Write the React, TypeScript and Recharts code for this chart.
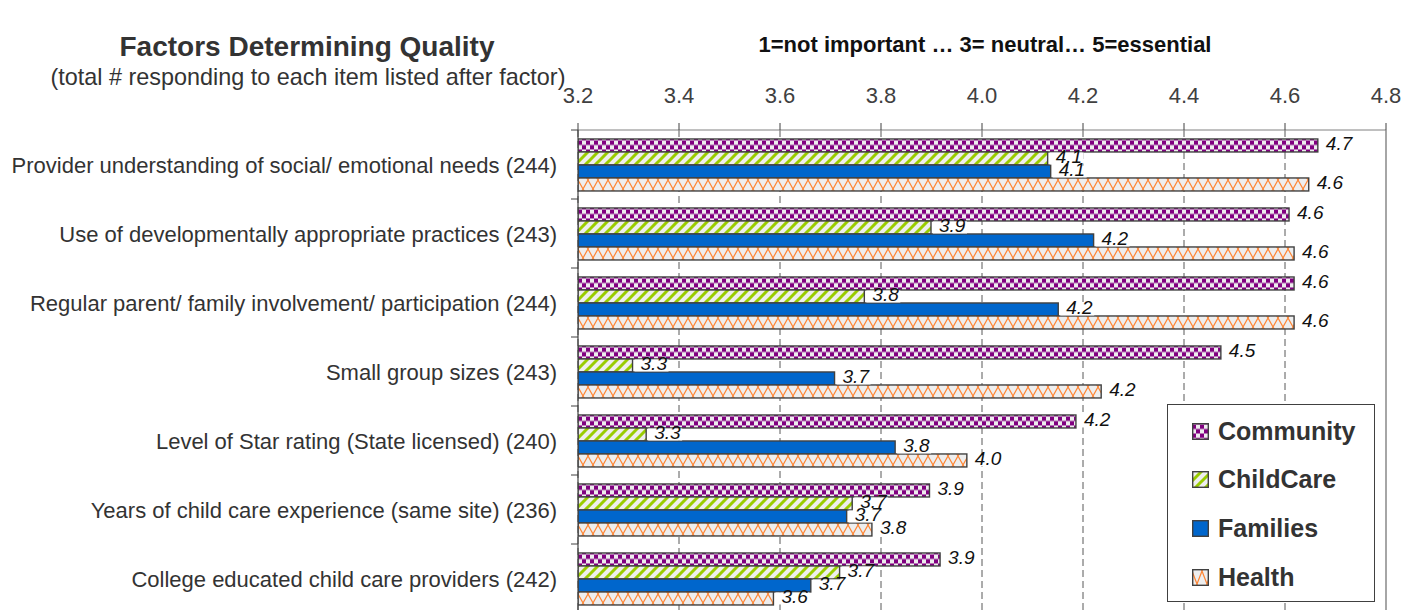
import React from 'react';
import { BarChart, Bar, XAxis, YAxis, CartesianGrid, LabelList, ReferenceLine } from 'recharts';

const categories = [
  'Provider understanding of social/ emotional needs (244)',
  'Use of developmentally appropriate practices (243)',
  'Regular parent/ family involvement/ participation (244)',
  'Small group sizes (243)',
  'Level of Star rating (State licensed) (240)',
  'Years of child care experience (same site) (236)',
  'College educated child care providers (242)',
];
const community = [4.665, 4.608, 4.618, 4.473, 4.186, 3.896, 3.917];
const childCare = [4.13, 3.899, 3.767, 3.308, 3.335, 3.743, 3.718];
const families = [4.136, 4.221, 4.151, 3.708, 3.828, 3.732, 3.661];
const health = [4.647, 4.618, 4.618, 4.236, 3.97, 3.782, 3.587];
const xTicks = [3.2, 3.4, 3.6, 3.8, 4.0, 4.2, 4.4, 4.6, 4.8];
const seriesNames = ['Community', 'ChildCare', 'Families', 'Health'];
const seriesKeys = ['community', 'childCare', 'families', 'health'];

const data = categories.map((name, i) => ({
  name,
  community: community[i],
  childCare: childCare[i],
  families: families[i],
  health: health[i],
}));

const FONT = '"Liberation Sans", Arial, sans-serif';
const PURPLE = '#800080';
const GREEN = '#99cc00';
const BLUE = '#0066cc';
const ORANGE = '#ff8533';
const BG = '#eeeeee';
const EDGE = '#404040';

function patternFor(kind: string, id: string, x: number, y: number, h: number) {
  if (kind === 'community') {
    return (
      <pattern id={id} patternUnits="userSpaceOnUse" x={x} y={y + 1.5} width={8} height={9}>
        <rect width={8} height={9} fill={BG} />
        <rect width={4} height={4.5} fill={PURPLE} />
        <rect x={4} y={4.5} width={4} height={4.5} fill={PURPLE} />
      </pattern>
    );
  }
  if (kind === 'childCare') {
    return (
      <pattern id={id} patternUnits="userSpaceOnUse" x={x} y={y} width={10} height={10}>
        <rect width={10} height={10} fill={BG} />
        <path d="M-2.5,2.5 L2.5,-2.5 M0,10 L10,0 M7.5,12.5 L12.5,7.5" stroke={GREEN} strokeWidth={3} />
      </pattern>
    );
  }
  if (kind === 'health') {
    const t = Math.max(h - 4, 2);
    return (
      <pattern id={id} patternUnits="userSpaceOnUse" x={x} y={y + 2} width={10} height={2 * t}>
        <rect width={10} height={2 * t} fill={BG} />
        <path d={`M0,0 L10,${2 * t} M10,0 L0,${2 * t}`} stroke={ORANGE} strokeWidth={1.2} fill="none" />
      </pattern>
    );
  }
  return null;
}

function PatternBar(props: any) {
  const { x, y, width, height, index, kind } = props;
  if (width == null || height == null || width <= 0) return null;
  const id = `bar-${kind}-${index}`;
  const pat = patternFor(kind, id, x, y, height);
  const fill = pat ? `url(#${id})` : BLUE;
  return (
    <g>
      {pat && <defs>{pat}</defs>}
      <rect x={x} y={y} width={width} height={height} fill={fill} stroke={EDGE} strokeWidth={1.4} />
    </g>
  );
}

function ValueLabel(props: any) {
  const { x, y, width, height, value } = props;
  if (value == null) return null;
  const cx = x + width;
  const cy = y + height / 2;
  return (
    <g>
      <rect x={cx + 2} y={y + 0.5} width={34} height={Math.max(height - 1, 1)} fill="#ffffff" />
      <text x={cx + 8} y={cy} dy={5} fontSize={19} fontStyle="italic" fill="#111" fontFamily={FONT}>
        {Number(value).toFixed(1)}
      </text>
    </g>
  );
}

const TICK_SIZE = 7;
const TICK_MARGIN = 14;

function CatTick(props: any) {
  const { x, y, payload, index, visibleTicksCount } = props;
  const off = payload && payload.offset ? payload.offset : 0;
  const axisX = x + TICK_SIZE + TICK_MARGIN;
  return (
    <g>
      <text x={x} y={y} dy={8} textAnchor="end" fontSize={22} fill="#333" fontFamily={FONT}>
        {payload.value}
      </text>
      <line x1={axisX - TICK_SIZE} x2={axisX} y1={y - off} y2={y - off} stroke={EDGE} strokeWidth={1} />
      {index === visibleTicksCount - 1 && (
        <line x1={axisX - TICK_SIZE} x2={axisX} y1={y + off} y2={y + off} stroke={EDGE} strokeWidth={1} />
      )}
    </g>
  );
}

function Swatch({ kind }: { kind: string }) {
  const id = `leg-${kind}`;
  const pat = patternFor(kind, id, 0, 0, 17);
  return (
    <svg width={17} height={17} style={{ display: 'block' }}>
      {pat && <defs>{pat}</defs>}
      <rect x={0.7} y={0.7} width={15.6} height={15.6} fill={pat ? `url(#${id})` : BLUE} stroke={EDGE} strokeWidth={1.4} />
    </svg>
  );
}

export default function App() {
  return (
    <div style={{ position: 'relative', width: 1402, height: 602, overflow: 'hidden', fontFamily: FONT, background: '#fff' }}>
      <div style={{ position: 'absolute', left: 0, width: 598, top: 25, textAlign: 'center', fontSize: 28, fontWeight: 'bold', color: '#333', lineHeight: '28px' }}>
        Factors Determining Quality
      </div>
      <div style={{ position: 'absolute', left: 0, width: 600, top: 58, textAlign: 'center', fontSize: 23.4, color: '#333', lineHeight: '23px' }}>
        (total # responding to each item listed after factor)
      </div>
      <div style={{ position: 'absolute', left: 627, width: 700, top: 26, textAlign: 'center', fontSize: 22, fontWeight: 'bold', color: '#111', lineHeight: '21px' }}>
        1=not important … 3= neutral… 5=essential
      </div>
      <BarChart
        width={1402}
        height={620}
        data={data}
        layout="vertical"
        margin={{ top: 82, right: 24, bottom: 15, left: 10 }}
        barCategoryGap="13%"
        barGap={0}
      >
        <CartesianGrid horizontal={false} vertical={true} stroke="#595959" strokeDasharray="7 4" />
        <XAxis
          type="number"
          orientation="top"
          domain={[3.2, 4.8]}
          ticks={xTicks}
          allowDataOverflow
          height={40}
          tickSize={TICK_SIZE}
          tickMargin={20}
          tickFormatter={(v: number) => v.toFixed(1)}
          tick={{ fontSize: 22, fill: '#404040', fontFamily: FONT }}
          axisLine={{ stroke: '#808080' }}
          tickLine={{ stroke: '#404040' }}
        />
        <YAxis
          type="category"
          dataKey="name"
          width={560}
          tickSize={TICK_SIZE}
          tickMargin={TICK_MARGIN}
          tickLine={false}
          axisLine={{ stroke: EDGE, strokeWidth: 1.2 }}
          tick={<CatTick />}
          interval={0}
        />
        <ReferenceLine x={4.8} stroke="#a6a6a6" strokeWidth={2} />
        {seriesKeys.map((k, i) => (
          <Bar
            key={k}
            dataKey={k}
            name={seriesNames[i]}
            isAnimationActive={false}
            fill={k === 'families' ? BLUE : '#888'}
            shape={(p: any) => <PatternBar {...p} kind={k} />}
          >
            <LabelList dataKey={k} content={<ValueLabel />} />
          </Bar>
        ))}
      </BarChart>
      <div
        style={{
          position: 'absolute',
          left: 1159,
          top: 396,
          width: 208,
          height: 198,
          border: '1px solid #404040',
          boxSizing: 'border-box',
          background: '#fff',
        }}
      >
        {seriesKeys.map((k, i) => (
          <div
            key={k}
            style={{ position: 'absolute', left: 24, top: 11 + i * 48.7, height: 30, display: 'flex', alignItems: 'center' }}
          >
            <Swatch kind={k} />
            <span style={{ marginLeft: 9, fontSize: 25, fontWeight: 'bold', color: '#333' }}>{seriesNames[i]}</span>
          </div>
        ))}
      </div>
    </div>
  );
}
